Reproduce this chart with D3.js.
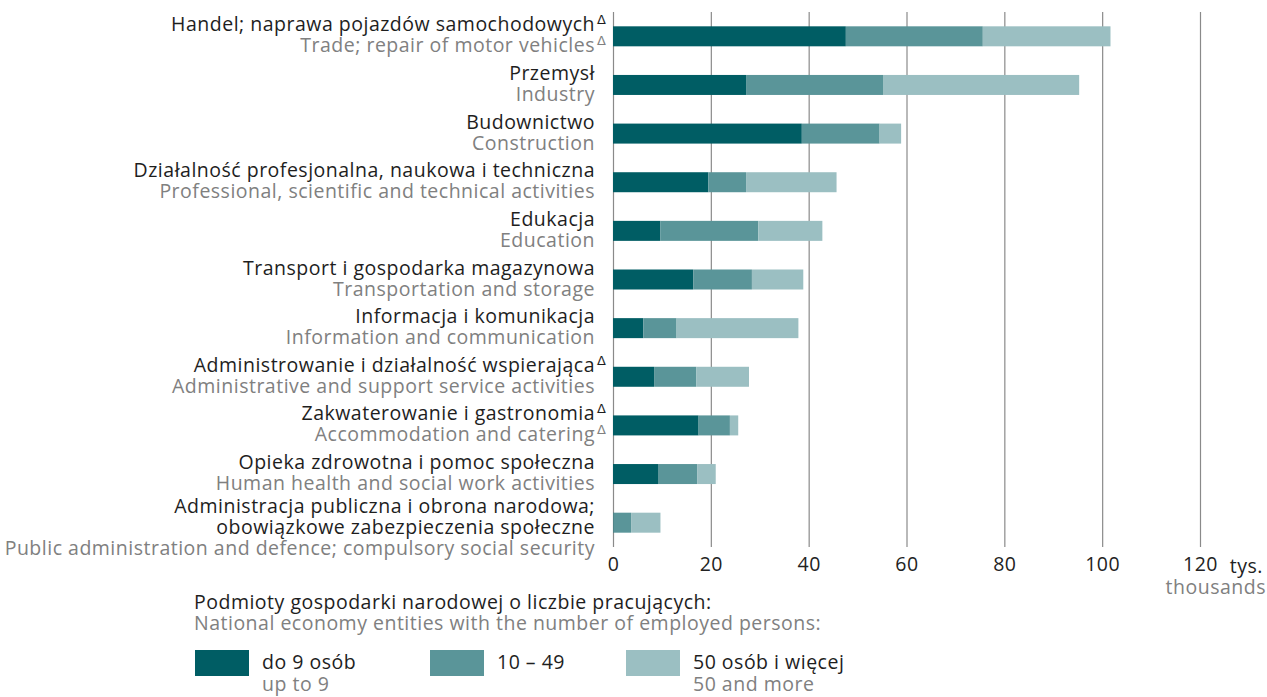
<!DOCTYPE html>
<html>
<head>
<meta charset="utf-8">
<script src="https://cdn.jsdelivr.net/npm/d3@7"></script>
<style>
  body { margin: 0; background: #fff; }
  svg text { font-family: "Open Sans", "Noto Sans", sans-serif; letter-spacing: 0.5px; }
</style>
</head>
<body>
<div id="chart"></div>
<script>
var svgWidth = 1267;
var svgHeight = 697;

// categories (Polish, "|" splits a line) and English names
var categoriesPl = [
  "Handel; naprawa pojazdów samochodowych",
  "Przemysł",
  "Budownictwo",
  "Działalność profesjonalna, naukowa i techniczna",
  "Edukacja",
  "Transport i gospodarka magazynowa",
  "Informacja i komunikacja",
  "Administrowanie i działalność wspierająca",
  "Zakwaterowanie i gastronomia",
  "Opieka zdrowotna i pomoc społeczna",
  "Administracja publiczna i obrona narodowa;|obowiązkowe zabezpieczenia społeczne"
];
var categoriesEn = [
  "Trade; repair of motor vehicles",
  "Industry",
  "Construction",
  "Professional, scientific and technical activities",
  "Education",
  "Transportation and storage",
  "Information and communication",
  "Administrative and support service activities",
  "Accommodation and catering",
  "Human health and social work activities",
  "Public administration and defence; compulsory social security"
];
var deltaPl = [true, false, false, false, false, false, false, true, true, false, false];
var deltaEn = [true, false, false, false, false, false, false, false, true, false, false];

// thousands of entities
var upTo9      = [47.6, 27.2, 38.6, 19.5, 9.7, 16.4, 6.2, 8.4, 17.5, 9.2, 0.1];
var from10to49 = [28.0, 28.0, 15.9, 7.7, 20.0, 12.0, 6.8, 8.6, 6.4, 8.0, 3.6];
var from50     = [26.1, 40.1, 4.4, 18.5, 13.1, 10.5, 24.9, 10.8, 1.7, 3.8, 6.0];

var seriesKeys = ["s1", "s2", "s3"];
var seriesPl = ["do 9 osób", "10 – 49", "50 osób i więcej"];
var seriesEn = ["up to 9", "", "50 and more"];
var colors = ["#005d64", "#5a9599", "#9bbfc2"];

var xTicks = [0, 20, 40, 60, 80, 100, 120];

var rows = categoriesPl.map(function(c, i) {
  return { key: c, s1: upTo9[i], s2: from10to49[i], s3: from50[i] };
});

var fs = "19.5px";

var svg = d3.select("#chart").append("svg")
  .attr("width", svgWidth)
  .attr("height", svgHeight);

var x = d3.scaleLinear().domain([0, 120]).range([613, 1200]);
var y = d3.scaleBand().domain(categoriesPl).range([12, 547]);

var gridTop = 12, gridBottom = 547;

// grid + axis
var axis = svg.append("g")
  .attr("transform", `translate(0, ${gridBottom})`)
  .call(d3.axisBottom(x).tickValues(xTicks).tickSize(-(gridBottom - gridTop)).tickPadding(7).tickFormat(d3.format("d")));
axis.select(".domain").remove();
axis.selectAll(".tick line").attr("stroke", "#8a8a8a").attr("stroke-width", 1.2);
axis.selectAll(".tick text")
  .attr("fill", "#222")
  .style("font-size", fs)
  .attr("dy", "0.85em");

svg.append("text")
  .attr("x", 1263).attr("y", 573)
  .attr("text-anchor", "end")
  .attr("fill", "#222")
  .style("font-size", fs)
  .text("tys.");
svg.append("text")
  .attr("x", 1266).attr("y", 594)
  .attr("text-anchor", "end")
  .attr("fill", "#808080")
  .style("font-size", fs)
  .text("thousands");

// stacked bars
var stacked = d3.stack().keys(seriesKeys)(rows);
var barH = 20;

svg.append("g").selectAll("g")
  .data(stacked)
  .enter()
  .append("g")
  .attr("fill", (d, i) => colors[i])
  .selectAll("rect")
  .data(d => d)
  .enter()
  .append("rect")
  .attr("x", d => x(d[0]))
  .attr("width", d => x(d[1]) - x(d[0]))
  .attr("y", d => y(d.data.key) + y.bandwidth() / 2 - barH / 2)
  .attr("height", barH);

// category labels
var labelX = 595;
var lineH = 21;
categoriesPl.forEach(function(c, i) {
  var cy = y(c) + y.bandwidth() / 2;
  var lines = c.split("|").map(t => ({ t: t, col: "#1e1e1e" }));
  var nPl = lines.length;
  lines.push({ t: categoriesEn[i], col: "#808080" });
  var first = cy - 5 - (lines.length - 2) * 5;
  lines.forEach(function(l, j) {
    svg.append("text")
      .attr("x", labelX)
      .attr("y", first + j * lineH)
      .attr("text-anchor", "end")
      .attr("fill", l.col)
      .style("font-size", fs)
      .text(l.t);
    var hasDelta = (j === nPl - 1 && deltaPl[i]) || (j === nPl && deltaEn[i]);
    if (hasDelta) {
      svg.append("text")
        .attr("x", labelX + 2)
        .attr("y", first + j * lineH - 7)
        .attr("fill", l.col)
        .style("font-size", "13px")
        .style("font-family", "DejaVu Sans")
        .text("Δ");
    }
  });
});

// legend
svg.append("text")
  .attr("x", 194).attr("y", 609)
  .attr("fill", "#1e1e1e")
  .style("font-size", fs)
  .text("Podmioty gospodarki narodowej o liczbie pracujących:");
svg.append("text")
  .attr("x", 194).attr("y", 630)
  .attr("fill", "#808080")
  .style("font-size", fs)
  .text("National economy entities with the number of employed persons:");

var legendX = [195, 430, 626];
seriesPl.forEach(function(s, i) {
  var g = svg.append("g").attr("transform", `translate(${legendX[i]}, 650)`);
  g.append("rect")
    .attr("width", 54).attr("height", 26)
    .attr("fill", colors[i]);
  g.append("text")
    .attr("x", 67).attr("y", 19)
    .attr("fill", "#1e1e1e")
    .style("font-size", fs)
    .text(s);
  g.append("text")
    .attr("x", 67).attr("y", 41)
    .attr("fill", "#808080")
    .style("font-size", fs)
    .text(seriesEn[i]);
});
</script>
</body>
</html>
